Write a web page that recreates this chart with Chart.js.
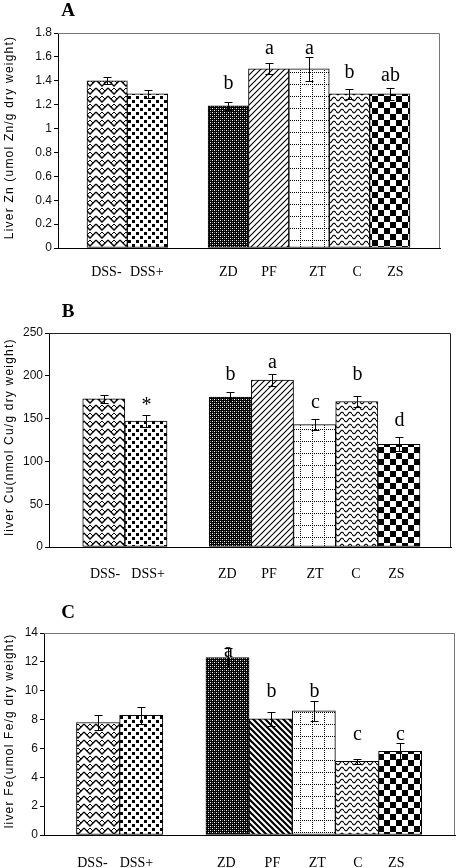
<!DOCTYPE html>
<html>
<head>
<meta charset="utf-8">
<script src="https://cdn.jsdelivr.net/npm/chart.js@4.4.0/dist/chart.umd.min.js"></script>
<style>
html, body { margin: 0; padding: 0; background: #fff; }
body { width: 456px; height: 868px; position: relative; overflow: hidden; }
canvas { position: absolute; left: 0; }
</style>
</head>
<body>
<canvas id="chartA" width="456" height="285" style="top:0px"></canvas>
<canvas id="chartB" width="456" height="295" style="top:285px"></canvas>
<canvas id="chartC" width="456" height="288" style="top:580px"></canvas>
<script>
// groups and their slot on the x axis (slot 2 is the gap)
const groups = ['DSS-', 'DSS+', 'ZD', 'PF', 'ZT', 'C', 'ZS'];
const slots = [0, 1, 3, 4, 5, 6, 7];

// A: liver Zn
const znMean = [1.40, 1.29, 1.19, 1.50, 1.50, 1.29, 1.29];
const znErr = [0.03, 0.035, 0.035, 0.045, 0.10, 0.04, 0.05];
const znLetters = ['', '', 'b', 'a', 'a', 'b', 'ab'];
const znLetterAt = [0, 0, 1.33, 1.625, 1.625, 1.42, 1.40];
const znTicks = [0, 0.2, 0.4, 0.6, 0.8, 1, 1.2, 1.4, 1.6, 1.8];

// B: liver Cu
const cuMean = [173, 147, 175, 195, 143, 170, 120];
const cuErr = [5, 7, 6, 7, 6, 6, 8];
const cuLetters = ['', '*', 'b', 'a', 'c', 'b', 'd'];
const cuLetterAt = [0, 159, 195, 209, 162, 195, 141];
const cuTicks = [0, 50, 100, 150, 200, 250];

// C: liver Fe
const feMean = [7.8, 8.3, 12.3, 8.05, 8.6, 5.1, 5.8];
const feErr = [0.5, 0.6, 0.65, 0.5, 0.7, 0.2, 0.55];
const feLetters = ['', '', 'a', 'b', 'b', 'c', 'c'];
const feLetterAt = [0, 0, 12.35, 9.55, 9.55, 6.6, 6.6];
const feTicks = [0, 2, 4, 6, 8, 10, 12, 14];

// fill patterns, one per group
function tile(w, h, draw) {
    const c = document.createElement('canvas');
    c.width = w; c.height = h;
    const g = c.getContext('2d');
    g.fillStyle = '#fff';
    g.fillRect(0, 0, w, h);
    g.fillStyle = '#000';
    g.strokeStyle = '#000';
    draw(g);
    return g.createPattern(c, 'repeat');
}

function makePatterns(heavyPF) {
    const weave = tile(12, 8, g => {
        g.lineWidth = 1.3;
        g.beginPath();
        for (let y = -8; y <= 8; y += 8) {
            g.moveTo(0, y); g.lineTo(6, y + 6); g.lineTo(12, y);
        }
        g.stroke();
        g.lineWidth = 1;
        g.beginPath();
        g.moveTo(3, 3); g.lineTo(6, 0);
        g.moveTo(9, 3); g.lineTo(6, 0);
        g.stroke();
    });
    const confetti = tile(8, 8, g => {
        g.fillRect(0, 0, 3, 3);
        g.fillRect(4, 4, 3, 3);
    });
    const dark = tile(4, 4, g => {
        g.fillRect(0, 0, 4, 4);
        g.fillStyle = '#fff';
        g.fillRect(0, 0, 1, 1);
        g.fillRect(2, 2, 1, 1);
        g.fillStyle = '#777';
        g.fillRect(2, 0, 1, 1);
        g.fillRect(0, 2, 1, 1);
    });
    const diag = heavyPF
        ? tile(6, 6, g => {
            g.lineWidth = 2.2;
            g.beginPath();
            g.moveTo(-1, -1); g.lineTo(7, 7);
            g.moveTo(-4, 2); g.lineTo(4, 10);
            g.moveTo(2, -4); g.lineTo(10, 4);
            g.stroke();
        })
        : tile(6, 6, g => {
            g.lineWidth = 1.1;
            g.beginPath();
            g.moveTo(-1, 7); g.lineTo(7, -1);
            g.moveTo(-4, 4); g.lineTo(4, -4);
            g.moveTo(2, 10); g.lineTo(10, 2);
            g.stroke();
        });
    const grid = tile(12, 12, g => {
        for (let i = 0; i < 12; i += 2) {
            g.fillRect(i, 0, 1, 1);
            g.fillRect(0, i, 1, 1);
        }
    });
    const wave = tile(8, 6, g => {
        g.lineWidth = 1.1;
        g.beginPath();
        for (let x = 0; x <= 8; x += 0.5) {
            const y = 3 + 1.8 * Math.sin(x / 8 * Math.PI * 2);
            if (x === 0) g.moveTo(x, y); else g.lineTo(x, y);
        }
        g.stroke();
    });
    const checker = tile(12, 12, g => {
        g.fillRect(0, 0, 6, 6);
        g.fillRect(6, 6, 6, 6);
    });
    return [weave, confetti, dark, diag, grid, wave, checker];
}

// error bars, letters, frame, y title, panel letter
const decor = {
    id: 'decor',
    afterDatasetsDraw(chart, args, o) {
        const { ctx, chartArea: a, scales } = chart;
        const x = scales.x, y = scales.y;
        const data = chart.data.datasets[0].data;
        ctx.save();

        ctx.strokeStyle = o.frame;
        ctx.lineWidth = 1;
        ctx.beginPath();
        ctx.moveTo(a.left, Math.round(a.top) + 0.5);
        ctx.lineTo(Math.round(a.right) - 0.5, Math.round(a.top) + 0.5);
        ctx.lineTo(Math.round(a.right) - 0.5, a.bottom);
        ctx.stroke();

        ctx.strokeStyle = '#000';
        ctx.fillStyle = '#000';
        data.forEach((d, i) => {
            const px = Math.round(x.getPixelForValue(d.x)) + 0.5;
            const t = Math.round(y.getPixelForValue(d.y + o.err[i])) + 0.5;
            const b = Math.round(y.getPixelForValue(d.y - o.err[i])) + 0.5;
            ctx.beginPath();
            ctx.moveTo(px, t); ctx.lineTo(px, b);
            ctx.moveTo(px - 4, t); ctx.lineTo(px + 4, t);
            ctx.moveTo(px - 4, b); ctx.lineTo(px + 4, b);
            ctx.stroke();
            if (o.letters[i]) {
                ctx.font = '20px "Liberation Serif", "Times New Roman", serif';
                ctx.textAlign = 'center';
                ctx.textBaseline = 'alphabetic';
                ctx.fillText(o.letters[i], px, y.getPixelForValue(o.letterAt[i]));
            }
        });

        ctx.font = '12px "Liberation Sans", Arial, sans-serif';
        ctx.letterSpacing = '1.2px';
        ctx.textAlign = 'center';
        ctx.textBaseline = 'middle';
        ctx.translate(o.titleX, (a.top + a.bottom) / 2 - 3);
        ctx.rotate(-Math.PI / 2);
        ctx.fillText(o.title, 0, 0);
        ctx.restore();

        ctx.save();
        ctx.font = 'bold 19px "Liberation Serif", "Times New Roman", serif';
        ctx.textAlign = 'center';
        ctx.textBaseline = 'middle';
        ctx.fillStyle = '#000';
        ctx.fillText(o.panel, o.panelX, o.panelY);
        ctx.restore();
    }
};

function fmt(v) {
    return String(Number(v.toFixed(2)));
}

function makeChart(id, p) {
    const ticks = p.ticks;
    return new Chart(document.getElementById(id), {
        type: 'bar',
        data: {
            datasets: [{
                data: slots.map((s, i) => ({ x: s, y: p.mean[i] })),
                backgroundColor: makePatterns(p.heavyPF),
                borderColor: '#000',
                borderWidth: 1,
                borderSkipped: false,
                barPercentage: 1,
                categoryPercentage: 1
            }]
        },
        options: {
            responsive: false,
            animation: false,
            layout: { padding: { top: p.padTop, right: p.padRight, left: 0, bottom: 0 } },
            plugins: {
                legend: { display: false },
                tooltip: { enabled: false },
                decor: {
                    err: p.err, letters: p.letters, letterAt: p.letterAt,
                    title: p.title, titleX: 10, frame: p.frame,
                    panel: p.panel, panelX: 68, panelY: p.panelY
                }
            },
            scales: {
                x: {
                    type: 'linear', display: false, offset: false,
                    min: p.xMin, max: p.xMax,
                    afterBuildTicks: s => { s.ticks = slots.map(v => ({ value: v })); }
                },
                xl: {
                    type: 'linear', position: 'bottom', axis: 'x', offset: false,
                    min: p.xMin, max: p.xMax,
                    afterBuildTicks: s => { s.ticks = p.labelPos.map(v => ({ value: v })); },
                    afterFit: s => { s.height = p.xHeight; },
                    grid: { display: false, drawTicks: false },
                    border: { display: true, color: '#000', width: 1 },
                    ticks: {
                        autoSkip: false, maxRotation: 0, minRotation: 0,
                        padding: p.labelPad, color: '#000',
                        font: { family: '"Liberation Serif", "Times New Roman", serif', size: 14 },
                        callback: (v, i) => groups[i]
                    }
                },
                y: {
                    min: ticks[0], max: ticks[ticks.length - 1],
                    afterBuildTicks: s => { s.ticks = ticks.map(v => ({ value: v })); },
                    afterFit: s => { s.width = p.yWidth; },
                    grid: { display: true, drawOnChartArea: false, drawTicks: true, tickLength: 4, color: '#000' },
                    border: { display: true, color: '#000', width: 1 },
                    ticks: {
                        padding: 2, color: '#111',
                        font: { family: '"Liberation Sans", Arial, sans-serif', size: 12 },
                        callback: v => fmt(v)
                    }
                }
            }
        },
        plugins: [decor]
    });
}

makeChart('chartA', {
    mean: znMean, err: znErr, letters: znLetters, letterAt: znLetterAt, ticks: znTicks,
    title: 'Liver Zn (umol Zn/g dry weight)', panel: 'A', panelY: 11, frame: '#777',
    xMin: -1.218, xMax: 8.243, labelPos: [-0.02, 0.98, 3.0, 4.01, 5.21, 6.19, 7.14],
    padTop: 33, padRight: 16, yWidth: 58, xHeight: 37, labelPad: 16, heavyPF: false
});

makeChart('chartB', {
    mean: cuMean, err: cuErr, letters: cuLetters, letterAt: cuLetterAt, ticks: cuTicks,
    title: 'liver Cu(nmol Cu/g dry weight)', panel: 'B', panelY: 27, frame: '#222',
    xMin: -1.30, xMax: 8.235, labelPos: [0.03, 1.05, 2.93, 3.92, 5.01, 5.98, 6.94],
    padTop: 48, padRight: 5, yWidth: 49, xHeight: 33, labelPad: 19, heavyPF: false
});

makeChart('chartC', {
    mean: feMean, err: feErr, letters: feLetters, letterAt: feLetterAt, ticks: feTicks,
    title: 'liver Fe(umol Fe/g dry weight)', panel: 'C', panelY: 33, frame: '#777',
    xMin: -1.252, xMax: 8.271, labelPos: [-0.13, 0.89, 2.97, 4.04, 5.08, 6.02, 6.91],
    padTop: 53, padRight: 1, yWidth: 44, xHeight: 33, labelPad: 20, heavyPF: true
});
</script>
</body>
</html>
